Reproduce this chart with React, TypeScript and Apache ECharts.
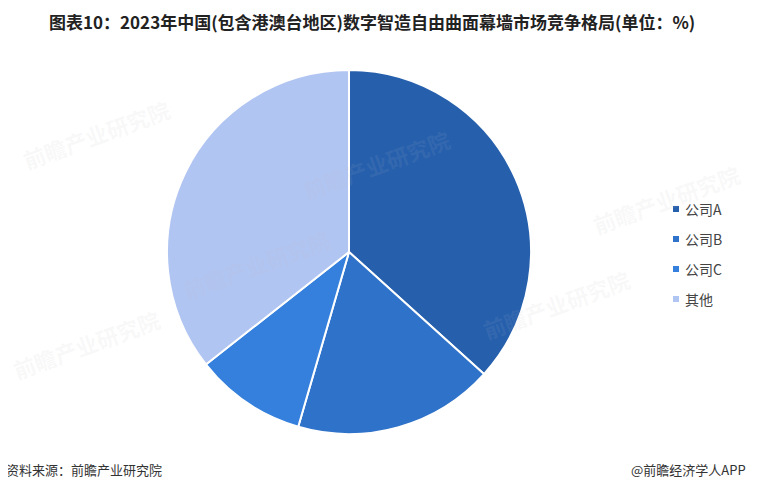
import React, { useEffect, useRef } from 'react';
import * as echarts from 'echarts';

const categories = ['公司A', '公司B', '公司C', '其他'];
const shares = [36.7, 17.8, 9.9, 35.6];
const colors = ['#2660ad', '#2e72c9', '#3580dc', '#b1c5f2'];

const titleText = '图表10：2023年中国(包含港澳台地区)数字智造自由曲面幕墙市场竞争格局(单位：%)';
const sourceText = '资料来源：前瞻产业研究院';
const brandText = '@前瞻经济学人APP';

const watermarks = [
  [20, 150],
  [300, 180],
  [590, 215],
  [180, 280],
  [480, 320],
  [10, 360],
];

const App: React.FC = () => {
  const chartRef = useRef<HTMLDivElement>(null);

  useEffect(() => {
    const chart = echarts.init(chartRef.current as HTMLDivElement, undefined, { renderer: 'svg' });
    const option = {
      animation: false,
      backgroundColor: '#ffffff',
      title: {
        text: titleText,
        left: 44,
        top: 8,
        textStyle: {
          fontSize: 17,
          fontWeight: 'bold',
          color: '#222',
          fontFamily: '"Noto Sans CJK SC", sans-serif',
        },
      },
      legend: {
        orient: 'vertical',
        left: 666,
        top: 197,
        itemWidth: 8,
        itemHeight: 8,
        itemGap: 16,
        icon: 'rect',
        data: categories,
        textStyle: {
          fontSize: 14,
          color: '#444',
          fontFamily: '"Noto Sans CJK SC", sans-serif',
        },
      },
      graphic: [
        ...watermarks.map(([x, y]) => ({
          type: 'text',
          x,
          y,
          rotation: Math.PI / 9,
          z: 10,
          style: {
            text: '前瞻产业研究院',
            fontSize: 22,
            fontWeight: 'bold',
            fill: 'rgba(190,190,190,0.1)',
            fontFamily: '"Noto Sans CJK SC", sans-serif',
          },
        })),
        {
          type: 'text',
          x: 6,
          y: 463,
          style: {
            text: sourceText,
            fontSize: 13,
            fill: '#333',
            fontFamily: '"Noto Sans CJK SC", sans-serif',
          },
        },
        {
          type: 'text',
          x: 631,
          y: 463,
          style: {
            text: brandText,
            fontSize: 13,
            fill: '#333',
            fontFamily: '"Noto Sans CJK SC", sans-serif',
          },
        },
      ],
      series: [
        {
          type: 'pie',
          center: [349, 252],
          radius: 182,
          startAngle: 90,
          clockwise: true,
          label: { show: false },
          labelLine: { show: false },
          itemStyle: { borderColor: '#fff', borderWidth: 2 },
          data: categories.map((name, i) => ({
            name,
            value: shares[i],
            itemStyle: { color: colors[i] },
          })),
        },
      ],
    };
    chart.setOption(option);
    return () => {
      chart.dispose();
    };
  }, []);

  return <div ref={chartRef} style={{ width: '760px', height: '492px', margin: '-8px' }}></div>;
};

export default App;
